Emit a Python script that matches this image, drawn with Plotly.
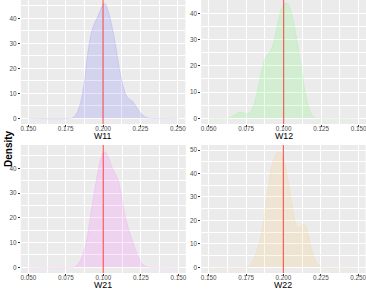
import plotly.graph_objects as go

# ---------------- data ----------------
w11_x = [0.150, 0.1786, 0.1808, 0.1830, 0.1853, 0.1875, 0.1897, 0.1920, 0.1942, 0.1964,
         0.1987, 0.2004, 0.2020, 0.2042, 0.2065, 0.2087, 0.2109, 0.2132, 0.2154, 0.2176,
         0.2199, 0.2221, 0.2243, 0.2277, 0.2310, 0.250]
w11_y = [0.0, 0.0, 0.7, 2.7, 7.3, 14.7, 26.0, 34.0, 38.0, 40.7,
         44.0, 46.0, 45.3, 41.3, 35.3, 28.0, 20.0, 13.3, 9.3, 7.6,
         6.7, 4.7, 2.7, 0.7, 0.0, 0.0]

w12_x = [0.050, 0.0631, 0.0653, 0.0676, 0.0698, 0.0716, 0.0738, 0.0760, 0.0782, 0.0804,
         0.0827, 0.0849, 0.0871, 0.0893, 0.0916, 0.0938, 0.0960, 0.0982, 0.1004, 0.1027,
         0.1049, 0.1071, 0.1093, 0.1116, 0.1138, 0.1160, 0.1182, 0.1204, 0.1231, 0.150]
w12_y = [0.0, 0.0, 0.6, 1.5, 2.2, 2.4, 1.9, 1.65, 2.5, 5.7,
         10.8, 17.1, 22.2, 24.5, 26.0, 29.8, 36.2, 41.3, 43.6, 43.8,
         41.3, 35.6, 28.6, 20.3, 12.1, 5.7, 1.9, 0.4, 0.0, 0.0]

w21_x = [0.050, 0.0800, 0.0822, 0.0844, 0.0867, 0.0889, 0.0911, 0.0933, 0.0956, 0.0978,
         0.0996, 0.1011, 0.1033, 0.1056, 0.1078, 0.1100, 0.1122, 0.1144, 0.1167, 0.1189,
         0.1211, 0.1233, 0.1256, 0.1278, 0.1300, 0.150]
w21_y = [0.0, 0.0, 0.7, 2.3, 5.7, 11.0, 19.1, 27.9, 36.0, 42.7,
         46.0, 46.7, 44.7, 40.7, 38.0, 35.3, 28.6, 21.1, 15.8, 11.7,
         7.7, 4.3, 1.6, 0.5, 0.0, 0.0]

w22_x = [0.150, 0.1754, 0.1777, 0.1799, 0.1821, 0.1844, 0.1866, 0.1888, 0.1911, 0.1933,
         0.1955, 0.1971, 0.1989, 0.2011, 0.2033, 0.2056, 0.2078, 0.2094, 0.2112, 0.2134,
         0.2152, 0.2167, 0.2190, 0.2212, 0.2234, 0.2257, 0.250]
w22_y = [0.0, 0.0, 1.0, 3.1, 6.7, 11.6, 19.5, 29.4, 39.3, 45.7,
         48.6, 49.3, 48.2, 43.6, 36.5, 27.3, 19.5, 16.6, 17.3, 18.5,
         17.3, 13.8, 7.4, 3.1, 1.0, 0.0, 0.0]

names = ["W11", "W12", "W21", "W22"]
true_values = [0.2, 0.1, 0.1, 0.2]
x_tickvals = [[0.150, 0.175, 0.200, 0.225, 0.250],
              [0.050, 0.075, 0.100, 0.125, 0.150],
              [0.050, 0.075, 0.100, 0.125, 0.150],
              [0.150, 0.175, 0.200, 0.225, 0.250]]
x_ticktext = [["0.150", "0.175", "0.200", "0.225", "0.250"],
              ["0.050", "0.075", "0.100", "0.125", "0.150"],
              ["0.050", "0.075", "0.100", "0.125", "0.150"],
              ["0.150", "0.175", "0.200", "0.225", "0.250"]]
y_tickvals = [[0, 10, 20, 30, 40], [0, 10, 20, 30, 40],
              [0, 10, 20, 30, 40], [0, 10, 20, 30, 40, 50]]

xs = [w11_x, w12_x, w21_x, w22_x]
ys = [w11_y, w12_y, w21_y, w22_y]

# ---------------- styling / layout ----------------
W, H = 366, 289
fills = ["rgba(0,0,255,0.1)", "rgba(0,255,0,0.1)", "rgba(255,0,255,0.1)", "rgba(255,165,0,0.1)"]
lines = ["rgba(0,0,255,0.12)", "rgba(0,255,0,0.12)", "rgba(255,0,255,0.12)", "rgba(255,165,0,0.12)"]
x_ranges = [[0.145, 0.255], [0.045, 0.155], [0.045, 0.155], [0.145, 0.255]]
y_ranges = [[-2.28, 47.32], [-2.17, 45.07], [-2.30, 49.41], [-2.43, 52.13]]
# pixel boxes: (left, right, top, bottom)
boxes = [(20.9, 185.3, 0, 124), (201.2, 366, 0, 124),
         (20.8, 185.8, 145, 273), (201.2, 365.6, 145, 273)]
title_y = [136.3, 136.3, 285, 285]

FONT = "Liberation Sans, Arial, sans-serif"

fig = go.Figure()
layout = dict(
    template="none",
    width=W, height=H,
    margin=dict(l=0, r=0, t=0, b=0, pad=0, autoexpand=False),
    paper_bgcolor="white",
    plot_bgcolor="#EBEBEB",
    showlegend=False,
    font=dict(family=FONT, size=6, color="#4D4D4D"),
    shapes=[], annotations=[],
)

for i in range(4):
    sfx = "" if i == 0 else str(i + 1)
    xa, ya = "x" + sfx, "y" + sfx
    fig.add_trace(go.Scatter(
        x=xs[i], y=ys[i], mode="lines", fill="tozeroy",
        fillcolor=fills[i], line=dict(color=lines[i], width=0.8, shape="spline", smoothing=0.6),
        xaxis=xa, yaxis=ya, hoverinfo="skip"))
    l, r, t, b = boxes[i]
    common_minor = dict(showgrid=True, gridcolor="white", gridwidth=0.5)
    layout["xaxis" + sfx] = dict(
        domain=[l / W, min(r / W, 1)], anchor=ya, range=x_ranges[i], automargin=False,
        tickvals=x_tickvals[i], ticktext=x_ticktext[i],
        ticks="outside", ticklen=1.5, tickwidth=0.6, tickcolor="#333333",
        ticklabelstandoff=-3, ticklabeloverflow="allow",
        showgrid=True, gridcolor="white", gridwidth=1, zeroline=False, showline=False,
        tickfont=dict(size=6.3, color="#4D4D4D", family=FONT),
        minor=dict(dtick=0.0125, tick0=0.0, **common_minor),
    )
    layout["yaxis" + sfx] = dict(
        domain=[1 - b / H, 1 - t / H], anchor=xa, range=y_ranges[i], automargin=False,
        tickvals=y_tickvals[i],
        ticks="outside", ticklen=2, tickwidth=0.6, tickcolor="#333333",
        showgrid=True, gridcolor="white", gridwidth=1, zeroline=False, showline=False,
        tickfont=dict(size=6.3, color="#4D4D4D", family=FONT),
        minor=dict(dtick=5, tick0=0, **common_minor),
    )
    layout["shapes"].append(dict(
        type="line", xref=xa, yref=ya + " domain", x0=true_values[i], x1=true_values[i],
        y0=0, y1=1, line=dict(color="rgba(255,0,0,0.62)", width=1.2), layer="above"))
    layout["annotations"].append(dict(
        text=names[i], xref="paper", yref="paper",
        x=((l + min(r, W)) / 2) / W, y=1 - title_y[i] / H,
        xanchor="center", yanchor="middle", showarrow=False,
        font=dict(size=8.8, color="black", family=FONT)))

layout["annotations"].append(dict(
    text="<b>Density</b>", xref="paper", yref="paper", x=8 / W, y=1 - 149 / H,
    xanchor="center", yanchor="middle", showarrow=False, textangle=-90,
    font=dict(size=10, color="black", family=FONT)))

fig.update_layout(**layout)
fig.write_html(
    "out.html",
    config={"displayModeBar": False},
    post_script="document.body.style.margin='0px';document.body.style.overflow='hidden';",
)
